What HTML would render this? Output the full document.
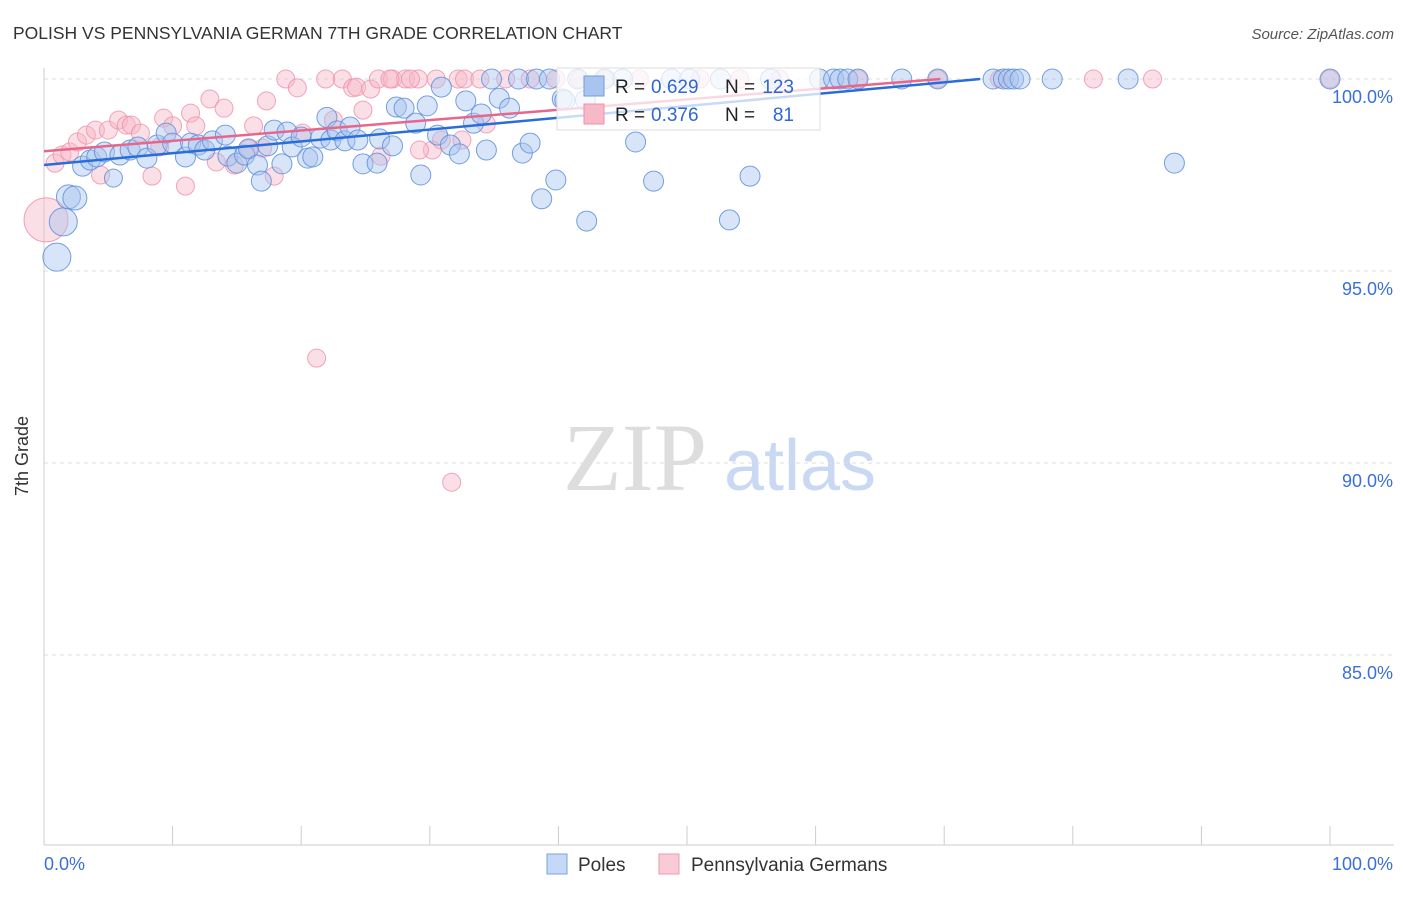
<!DOCTYPE html>
<html><head><meta charset="utf-8"><style>
body{margin:0;background:#fff;font-family:"Liberation Sans",sans-serif}
svg text{font-family:"Liberation Sans",sans-serif}
</style></head><body>
<svg width="1406" height="892" xmlns="http://www.w3.org/2000/svg">
<text x="13" y="39" font-size="17.5" fill="#333">POLISH VS PENNSYLVANIA GERMAN 7TH GRADE CORRELATION CHART</text>
<text x="1394" y="39" font-size="15" fill="#555" text-anchor="end" font-style="italic">Source: ZipAtlas.com</text>
<text x="28" y="456" font-size="18" fill="#333" transform="rotate(-90 28 456)" text-anchor="middle">7th Grade</text>
<g>
<text x="635" y="490" font-size="96" fill="#ddd" text-anchor="middle" font-family="Liberation Serif" style="font-family:'Liberation Serif',serif">ZIP</text>
<text x="800" y="490" font-size="72" fill="#c9d9f3" text-anchor="middle">atlas</text>
</g>
<g id="grid"></g><g id="axes"></g><g id="pts"></g><g id="trend"></g>
<g>
<rect x="557" y="68" width="263" height="62" fill="#fff" fill-opacity="0.75" stroke="#ddd"/>
<rect x="584" y="76" width="20" height="20" fill="#a9c4ee" stroke="#6f9be0"/>
<rect x="584" y="104" width="20" height="20" fill="#f7b8c8" stroke="#ef8fab"/>
<text x="615" y="93" font-size="19" fill="#222">R =</text>
<text x="651" y="93" font-size="19" fill="#2f66d0">0.629</text>
<text x="725" y="93" font-size="19" fill="#222">N =</text>
<text x="794" y="93" font-size="19" fill="#2f66d0" text-anchor="end">123</text>
<text x="615" y="121" font-size="19" fill="#222">R =</text>
<text x="651" y="121" font-size="19" fill="#2f66d0">0.376</text>
<text x="725" y="121" font-size="19" fill="#222">N =</text>
<text x="794" y="121" font-size="19" fill="#2f66d0" text-anchor="end">81</text>
</g>
<g>
<rect x="547" y="854" width="20" height="20" fill="#c5d8f5" stroke="#7aa3e3"/>
<text x="578" y="871" font-size="19" fill="#333">Poles</text>
<rect x="659" y="854" width="20" height="20" fill="#f9cbd7" stroke="#ef9ab2"/>
<text x="691" y="871" font-size="19" fill="#333">Pennsylvania Germans</text>
</g>
</svg>
<script>
const yTicks=[100,95,90,85];
const xTickLabels=["0.0%","100.0%"];
const blueX=[1.0,1.5,1.9,2.4,3.0,3.6,4.1,5.4,4.7,5.9,6.7,7.3,8.0,8.8,9.5,10.0,11.0,11.4,12.0,12.5,13.1,14.1,14.3,15.0,15.6,15.9,16.6,16.9,17.4,17.9,18.5,18.9,19.3,20.0,20.5,20.9,21.5,22.0,22.3,22.8,23.4,23.8,24.4,24.8,25.9,26.1,27.1,27.4,28.0,28.9,29.3,29.8,30.6,30.9,31.6,32.3,32.8,33.4,34.0,34.4,34.8,35.4,36.2,36.9,37.2,37.8,38.3,38.7,39.3,39.8,40.3,41.5,42.2,43.6,45.0,46.0,47.4,48.8,50.2,52.6,53.3,54.9,56.5,60.3,61.4,61.9,62.5,63.3,66.7,69.5,73.8,74.6,75.0,75.4,75.9,78.4,84.3,87.9,100,42.1,40.5];
const blueY=[95.36,96.28,96.93,96.9,97.73,97.89,97.97,97.42,98.1,98.02,98.15,98.23,97.94,98.28,98.59,98.33,97.97,98.33,98.28,98.15,98.39,98.54,97.99,97.81,98.02,98.18,97.76,97.34,98.26,98.67,97.79,98.62,98.23,98.49,97.94,97.97,98.46,99.0,98.41,98.65,98.39,98.75,98.41,97.79,97.81,98.44,98.26,99.27,99.24,98.85,97.5,99.3,98.54,99.79,98.28,98.05,99.43,98.85,99.09,98.15,100,99.5,99.24,100,98.07,98.33,100,96.88,100,97.37,99.48,100,96.3,100,100,98.36,97.34,100,100,100,96.33,97.47,100,100,100,100,100,100,100,100,100,100,100,100,100,100,100,97.81,100,99.45,99.45];
const blueS=[14,14,12,12,10,10,10,9,10,10,10,10,10,10,10,10,10,10,10,10,10,10,10,10,10,10,10,10,10,10,10,10,10,10,10,10,10,10,10,10,10,10,10,10,10,10,10,10,10,10,10,10,10,10,10,10,10,10,10,10,10,10,10,10,10,10,10,10,10,10,10,10,10,10,10,10,10,10,10,10,10,10,10,10,10,10,10,10,10,10,10,10,10,10,10,10,10,10,10,10,10];
const pinkX=[0.16,0.86,1.4,2.0,2.6,3.3,4.0,4.4,5.0,5.8,6.4,6.8,7.5,8.4,9.0,9.3,10.0,11.0,11.4,11.8,12.9,13.4,14.0,14.8,15.9,16.3,17.0,17.3,17.9,18.8,19.7,20.1,21.2,21.9,22.5,23.2,24.0,24.3,24.8,25.4,26.0,26.2,27.1,28.1,29.1,30.2,30.5,30.9,31.7,32.2,32.5,34.4,35.9,37.8,39.8,41.6,43.6,46.3,51.0,54.1,57.2,63.3,69.5,74.3,81.6,86.2,100,28.5,26.9,29.2,32.7,33.9];
const pinkY=[96.33,97.81,98.02,98.1,98.36,98.54,98.67,97.5,98.67,98.93,98.8,98.8,98.59,97.47,98.23,98.98,98.78,97.21,99.11,98.78,99.48,97.84,99.24,97.76,98.18,98.78,98.2,99.43,97.47,100,99.77,98.59,92.73,100,98.93,100,99.77,99.79,99.19,99.74,100,97.99,100,100,100,98.15,100,98.41,89.5,100,98.41,98.83,100,100,100,100,100,100,100,100,100,100,100,100,100,100,100,100,100,98.15,100,100];
const pinkS=[22,9,9,9,9,9,9,9,9,9,9,9,9,9,9,9,9,9,9,9,9,9,9,9,9,9,9,9,9,9,9,9,9,9,9,9,9,9,9,9,9,9,9,9,9,9,9,9,9,9,9,9,9,9,9,9,9,9,9,9,9,9,9,9,9,9,9,9,9,9,9,9];
const blueTrendX=[0,72.8,72.8];const blueTrendY=[97.76,100,100];
const pinkTrendX=[0,69.7];const pinkTrendY=[98.12,100];
const NS="http://www.w3.org/2000/svg";
const X=v=>44+v*12.86, Y=v=>79+(100-v)*38.4;
function mk(t,a,p){const e=document.createElementNS(NS,t);for(const k in a)e.setAttribute(k,a[k]);p.appendChild(e);return e;}
const grid=document.getElementById('grid'),axes=document.getElementById('axes');
yTicks.forEach(t=>{
 const l=mk('line',{x1:44,x2:1394,y1:Y(t),y2:Y(t),stroke:'#ddd','stroke-dasharray':'4,4'},grid);
 
 
 const tx=mk('text',{x:1393,y:Y(t)+24,'font-size':18,fill:'#3a6fd8','text-anchor':'end'},grid);tx.textContent=t.toFixed(1)+'%';
 
 
});
let a=mk('line',{x1:44,x2:44,y1:68,y2:845,stroke:'#ccc'},axes);


a=mk('line',{x1:44,x2:1394,y1:845,y2:845,stroke:'#ccc'},axes);


for(let i=1;i<=10;i++){const t=mk('line',{x1:X(i*10),x2:X(i*10),y1:826,y2:845,stroke:'#ccc'},axes);
 
 }
let xl=mk('text',{x:44,y:870,'font-size':18,fill:'#3a6fd8'},axes);xl.textContent=xTickLabels[0];


xl=mk('text',{x:1393,y:870,'font-size':18,fill:'#3a6fd8','text-anchor':'end'},axes);xl.textContent=xTickLabels[1];


const pts=document.getElementById('pts');
pinkX.forEach((v,i)=>{const c=mk('circle',{cx:X(v),cy:Y(pinkY[i]),r:pinkS[i],fill:'#f7b8c8','fill-opacity':0.45,stroke:'#ef8fab','stroke-opacity':0.8},pts);
 
 });
blueX.forEach((v,i)=>{const c=mk('circle',{cx:X(v),cy:Y(blueY[i]),r:blueS[i],fill:'#a9c4ee','fill-opacity':0.45,stroke:'#5d8fdc','stroke-opacity':0.85},pts);
 
 });
const tr=document.getElementById('trend');
let p=mk('polyline',{points:pinkTrendX.map((v,i)=>X(v)+','+Y(pinkTrendY[i])).join(' '),fill:'none',stroke:'#e8668c','stroke-width':2.5},tr);


p=mk('polyline',{points:blueTrendX.map((v,i)=>X(v)+','+Y(blueTrendY[i])).join(' '),fill:'none',stroke:'#2a6dd9','stroke-width':2.5},tr);


</script>
</body></html>
